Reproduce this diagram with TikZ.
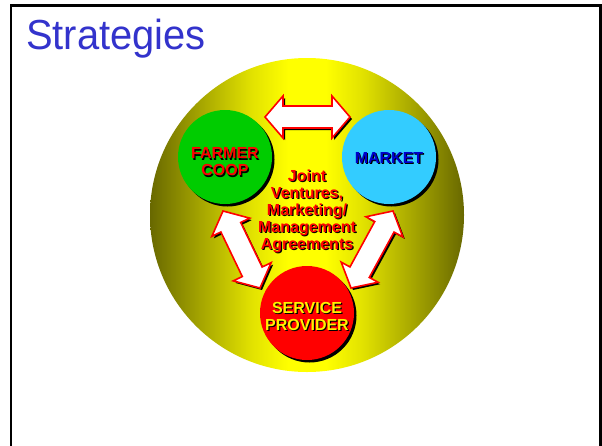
\documentclass[tikz,border=0pt]{standalone}
\usepackage{fontspec}
\setmainfont{Liberation Sans}
\usetikzlibrary{calc,shadows}
\definecolor{TitleBlue}{RGB}{51,51,204}
\definecolor{CoopGreen}{RGB}{0,204,0}
\definecolor{MarketCyan}{RGB}{51,204,255}
\definecolor{MarketBlue}{RGB}{0,0,204}
\definecolor{OliveDark}{RGB}{104,104,0}
\definecolor{OliveMid}{RGB}{165,165,0}
\definecolor{OliveLight}{RGB}{225,225,0}
\pgfdeclarehorizontalshading{ballshade}{100bp}{color(0bp)=(OliveDark); color(25bp)=(OliveDark); color(33bp)=(OliveMid); color(41bp)=(OliveLight); color(47bp)=(yellow); color(53bp)=(yellow); color(59bp)=(OliveLight); color(67bp)=(OliveMid); color(75bp)=(OliveDark); color(100bp)=(OliveDark)}
\tikzset{every node/.style={inner sep=0pt}}
\tikzset{ball/.style={circle, minimum size=94pt, drop shadow={shadow xshift=2.5pt, shadow yshift=-2.5pt, fill=black, opacity=1}}}
\tikzset{tag/.style={font=\bfseries\fontsize{16}{17}\selectfont, align=center}}
\tikzset{twoway/.style={fill=white, draw=red, line width=1.6pt, drop shadow={shadow xshift=2pt, shadow yshift=-2pt, fill=black, opacity=1}}}

% text with a black shadow below it
\newcommand{\shadowtag}[4]{%
\node[tag, text=black] at ($(#2)+(1.2pt,-1.2pt)$) {#4};
\node[tag, text=#3] (#1) at (#2) {#4};}

% block arrow with a head at both ends
\newcommand{\twowayarrow}[2]{%
\draw[twoway] let \p1=($(#2)-(#1)$), \n1={atan2(\y1,\x1)}, \n2={veclen(\x1,\y1)} in
  [shift={(#1)}, rotate=\n1]
  (0,0) -- (18,21) -- (18,11) -- ({\n2-18},11) -- ({\n2-18},21) -- (\n2,0)
  -- ({\n2-18},-21) -- ({\n2-18},-11) -- (18,-11) -- (18,-21) -- cycle;}

\begin{document}
\begin{tikzpicture}[x=1pt,y=1pt]
\useasboundingbox (0,0) rectangle (602,-445);
\draw[line width=2.5pt] (11,-5.5) rectangle (600.5,-470);

\node[anchor=base west, text=TitleBlue, font=\fontsize{42}{42}\selectfont, xscale=0.95] (title) at (26,-49) {Strategies};

\node[circle, minimum size=314pt, shade, shading=ballshade] (ball) at (307,-215) {};

\node[ball, fill=CoopGreen] (farmer) at (225,-157) {};
\node[ball, fill=MarketCyan] (market) at (389,-157) {};
\node[ball, fill=red] (provider) at (307,-313) {};

%% arrow ends
\coordinate (fm1) at (265,-117);
\coordinate (fm2) at (350,-117);
\coordinate (fp1) at (223,-211);
\coordinate (fp2) at (260,-288);
\coordinate (mp1) at (393,-211);
\coordinate (mp2) at (351,-288);
\twowayarrow{fm1}{fm2}
\twowayarrow{fp1}{fp2}
\twowayarrow{mp1}{mp2}

\coordinate (farmertext) at (225,-162);
\coordinate (markettext) at (389,-157.5);
\coordinate (providertext) at (307,-316);
\coordinate (jointtext) at (307,-211);
\shadowtag{farmerlbl}{farmertext}{red}{FARMER\\COOP}
\shadowtag{marketlbl}{markettext}{MarketBlue}{MARKET}
\shadowtag{providerlbl}{providertext}{yellow}{SERVICE\\PROVIDER}
\shadowtag{jointlbl}{jointtext}{red}{Joint\\Ventures,\\Marketing/\\Management\\Agreements}

\end{tikzpicture}
\end{document}
